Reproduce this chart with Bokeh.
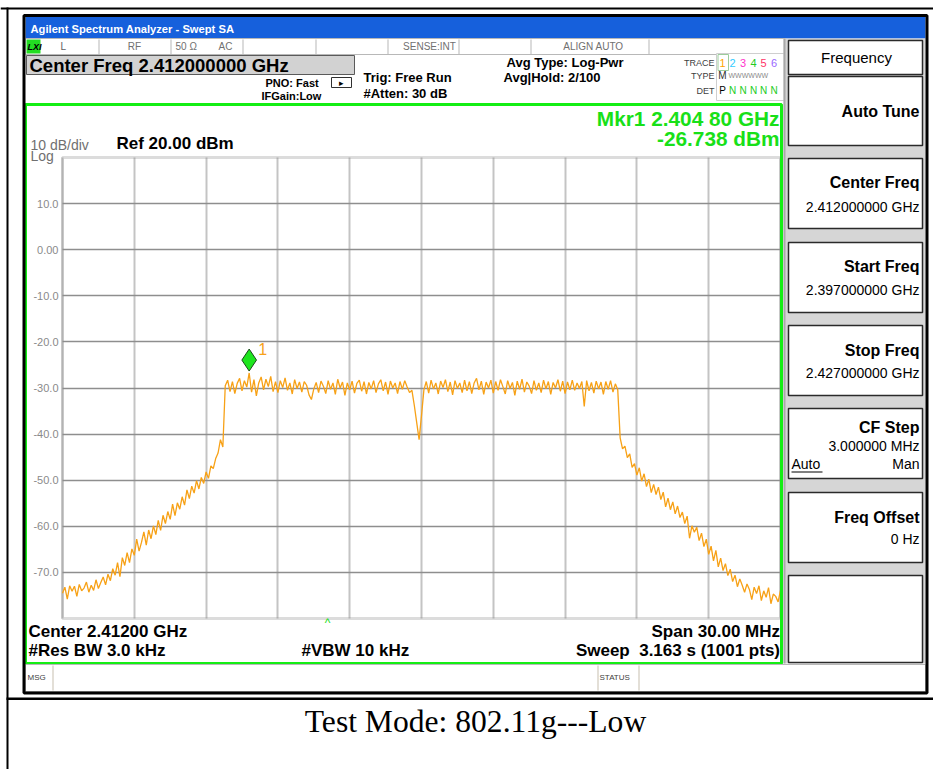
import numpy as np
from bokeh.plotting import figure
from bokeh.models import (Range1d, FixedTicker, Label, BoxAnnotation, LinearAxis, Grid)
from bokeh.embed import file_html
from bokeh.resources import INLINE

# ---------------- data ----------------
START_GHZ = 2.397
STOP_GHZ = 2.427
REF_DBM = 20.0
BOTTOM_DBM = -80.0
MARKER_GHZ = 2.4048
MARKER_DBM = -26.738

# trace level (dBm), one value every 0.1 MHz from 2.397 to 2.427 GHz
skirt_low = [
    -74.5, -73.2, -75.8, -72.9, -74.1, -73.0, -75.2, -72.6, -74.0, -73.4,
    -72.1, -74.3, -72.8, -73.9, -71.6, -73.5, -72.2, -71.0, -72.7, -70.4,
    -71.8, -69.2, -70.6, -67.9, -70.9, -66.8, -68.5, -65.7, -67.9, -64.9,
    -66.3, -62.8, -65.4, -63.5, -61.2, -64.1, -60.8, -62.7, -59.9, -61.8,
    -58.7, -60.9, -57.6, -59.4, -56.8, -58.5, -55.2, -57.7, -54.9, -56.3,
    -53.6, -55.4, -52.1, -54.0, -51.3, -52.8, -50.1, -51.9, -49.4, -50.7,
    -48.2, -49.6, -46.9, -47.5, -45.3, -44.1, -41.2, -42.8, -29.5, -28.3,
]
band_low = [
    -30.8, -28.6, -31.2, -29.0, -27.9, -30.6, -28.4, -29.8, -26.74, -30.9,
    -28.2, -31.7, -28.9, -27.6, -30.4, -28.1, -29.7, -27.5, -30.8, -28.6,
    -31.0, -28.4, -29.9, -27.8, -30.5, -28.9, -31.3, -28.2, -30.1, -28.7,
    -30.9, -28.6, -29.4, -31.5, -32.5, -30.2, -28.8, -31.0, -28.5, -29.6,
    -31.2, -28.4, -30.3, -28.9, -31.4, -28.1, -30.0, -28.7, -31.6, -28.9,
    -30.4, -28.5, -31.1, -29.0, -28.3, -30.7, -28.6, -31.3, -28.8, -30.2,
    -28.4, -31.0, -29.1, -28.2, -30.6, -28.7, -31.4, -28.5, -30.0, -28.9,
    -31.2, -28.6, -30.3, -28.4, -29.8, -31.0, -30.5, -33.8, -37.5, -41.2,
]
band_high = [
    -36.0, -30.4, -28.6, -31.1, -28.3, -30.2, -28.9, -31.3, -28.5, -29.9,
    -28.2, -30.8, -28.7, -31.5, -28.4, -30.1, -28.9, -31.0, -28.3, -30.6,
    -28.6, -31.2, -28.9, -27.9, -30.4, -28.5, -31.4, -28.7, -30.0, -28.3,
    -31.1, -28.6, -30.5, -28.2, -29.7, -31.3, -28.4, -30.1, -28.8, -31.6,
    -28.5, -30.3, -28.1, -30.9, -28.7, -29.6, -31.2, -28.4, -30.5, -28.9,
    -31.0, -28.3, -30.2, -28.6, -31.4, -28.8, -30.0, -28.2, -30.7, -28.5,
    -31.2, -28.7, -30.4, -28.3, -30.5, -28.9, -30.1, -28.6, -34.0, -28.4,
    -30.6, -28.8, -31.1, -28.5, -30.2, -28.7, -31.4, -28.6, -30.3, -28.4,
]
skirt_high = [
    -30.9, -29.1, -30.4, -40.8, -43.2, -42.6, -45.1, -44.3, -47.2, -46.4,
    -48.9, -47.3, -50.2, -48.6, -51.4, -49.8, -52.7, -50.9, -53.1, -51.5,
    -54.2, -52.6, -55.8, -53.9, -56.4, -54.7, -57.3, -55.6, -58.1, -56.9,
    -59.4, -57.8, -62.6, -59.9, -61.3, -60.2, -63.1, -61.5, -64.4, -62.8,
    -66.1, -64.3, -67.5, -65.2, -68.8, -66.9, -69.6, -68.1, -70.7, -69.3,
    -72.0, -70.6, -73.1, -71.4, -72.8, -74.3, -72.5, -73.7, -75.9, -73.2,
    -74.6, -72.9, -76.1, -74.0, -75.4, -73.3, -76.8, -74.7, -75.2, -76.4,
    -73.9,
]
levels_dbm = skirt_low + band_low + band_high + skirt_high
freq_ghz = np.linspace(START_GHZ, STOP_GHZ, len(levels_dbm))

grid_freqs = [2.397, 2.400, 2.403, 2.406, 2.409, 2.412, 2.415, 2.418, 2.421, 2.424, 2.427]
level_ticks = [10, 0, -10, -20, -30, -40, -50, -60, -70]
level_tick_labels = ["10.0", "0.00", "-10.0", "-20.0", "-30.0", "-40.0", "-50.0", "-60.0", "-70.0"]

SANS = "Liberation Sans"
SERIF = "Liberation Serif"

# ---------------- page geometry ----------------
W, H = 933, 769
GX0, GX1 = 62, 780     # graticule left/right (pixels)
GY0, GY1 = 157, 618    # graticule top/bottom (pixels)

ghz_per_px = (STOP_GHZ - START_GHZ) / (GX1 - GX0)
db_per_px = (REF_DBM - BOTTOM_DBM) / (GY1 - GY0)

p = figure(width=W, height=H, x_range=Range1d(0, W), y_range=Range1d(0, H),
           x_axis_type=None, y_axis_type=None,
           output_backend="svg", toolbar_location=None,
           min_border=0)
p.outline_line_color = None
p.background_fill_color = "white"
p.border_fill_color = "white"
p.extra_x_ranges = {"ghz": Range1d(START_GHZ - GX0 * ghz_per_px, START_GHZ + (W - GX0) * ghz_per_px)}
p.extra_y_ranges = {"dbm": Range1d(BOTTOM_DBM - (H - GY1) * db_per_px, REF_DBM + GY0 * db_per_px)}


def box(x0, y0, x1, y1, fill=None, line=None, lw=1):
    p.add_layout(BoxAnnotation(
        left=x0, right=x1, top=H - y0, bottom=H - y1,
        fill_color=fill, fill_alpha=1.0 if fill else 0.0,
        line_color=line, line_alpha=1.0 if line else 0.0, line_width=lw))


def text(x, y, s, size=12, color="black", style="normal", align="left", font=SANS, bg=None):
    p.add_layout(Label(
        x=x, y=H - y, text=s,
        text_font=font, text_font_size=f"{size}px", text_font_style=style,
        text_color=color, text_align=align, text_baseline="middle",
        background_fill_color=bg))


# ---------------- graticule: grid, axis, trace ----------------
has_cross = "cross_bounds" in Grid.properties()
if has_cross:
    xg = Grid(dimension=0, ticker=FixedTicker(ticks=grid_freqs), x_range_name="ghz", y_range_name="dbm",
              cross_bounds=(BOTTOM_DBM, REF_DBM), grid_line_color="#c4c4c4", grid_line_width=2)
    yg = Grid(dimension=1, ticker=FixedTicker(ticks=level_ticks), x_range_name="ghz", y_range_name="dbm",
              cross_bounds=(START_GHZ, STOP_GHZ), grid_line_color="#8e8e8e", grid_line_width=1.3)
    p.add_layout(xg)
    p.add_layout(yg)
else:
    p.segment(x0=grid_freqs, y0=BOTTOM_DBM, x1=grid_freqs, y1=REF_DBM, x_range_name="ghz",
              y_range_name="dbm", line_color="#c4c4c4", line_width=2, level="underlay")
    p.segment(x0=START_GHZ, y0=level_ticks, x1=STOP_GHZ, y1=level_ticks, x_range_name="ghz",
              y_range_name="dbm", line_color="#8e8e8e", line_width=1.3, level="underlay")

yax = LinearAxis(x_range_name="ghz", y_range_name="dbm", fixed_location=START_GHZ,
                 ticker=FixedTicker(ticks=level_ticks),
                 major_label_overrides={t: s for t, s in zip(level_ticks, level_tick_labels)})
yax.axis_line_color = None
yax.major_tick_line_color = None
yax.minor_tick_line_color = None
yax.major_tick_out = 0
yax.major_tick_in = 0
yax.minor_tick_out = 0
yax.major_label_text_font = SANS
yax.major_label_text_font_size = "11px"
yax.major_label_text_color = "#8a8a8a"
yax.major_label_standoff = 4
p.add_layout(yax, "left")

# graticule outline
p.add_layout(BoxAnnotation(left=START_GHZ, right=STOP_GHZ, bottom=BOTTOM_DBM, top=REF_DBM,
                           x_range_name="ghz", y_range_name="dbm", fill_alpha=0.0,
                           line_color="#8c8c8c", line_width=3, level="underlay"))

p.line(freq_ghz, levels_dbm, x_range_name="ghz", y_range_name="dbm",
       line_color="#f7a116", line_width=1.3)

# ---------------- document table ----------------
box(0, 7, 933, 9, fill="black")
box(6, 7, 8, 769, fill="black")
box(6, 697, 933, 699.5, fill="black")
text(475, 721, "Test Mode: 802.11g---Low", size=31.6, font=SERIF, align="center")

# ---------------- analyzer window ----------------
box(25, 16, 925, 38, fill="#1660dc")
text(30, 28, "Agilent Spectrum Analyzer - Swept SA", size=11.2, color="white", style="bold")

# status row
box(25, 38, 785, 54, fill="white", line="#b8b8b8")
for xs in [98, 170, 242, 315, 387, 458, 530, 648]:
    box(xs, 39, xs + 1, 54, fill="#b8b8b8")
box(26, 39, 40, 53, fill="#22dd22")
text(27, 46, "LXI", size=9, style="bold italic")
text(60, 46, "L", size=10, color="#606060")
text(134, 46, "RF", size=10, color="#707070", align="center")
text(175, 46, "50 Ω", size=10, color="#707070")
text(218, 46, "AC", size=10, color="#707070")
text(429, 46, "SENSE:INT", size=10, color="#707070", align="center")
text(593, 46, "ALIGN AUTO", size=10, color="#707070", align="center")

# settings row
box(26, 55, 354, 74, fill="#d2d2d2", line="#5a5a5a")
text(29, 65, "Center Freq 2.412000000 GHz", size=18.5, style="bold")
text(265, 82, "PNO: Fast", size=11, style="bold")
box(331, 77, 351, 87, fill="white", line="#303030")
text(341, 82.5, "▸", size=9, align="center")
text(261, 95, "IFGain:Low", size=11, style="bold")
text(363, 77, "Trig: Free Run", size=13, style="bold")
text(363, 93, "#Atten: 30 dB", size=13, style="bold")
text(506, 62, "Avg Type: Log-Pwr", size=13, style="bold")
text(503, 77, "Avg|Hold: 2/100", size=13, style="bold")

box(716, 53, 784, 100, fill="white", line="#cfcfcf")
text(714, 62, "TRACE", size=9, color="#404040", align="right")
text(714, 75, "TYPE", size=9, color="#404040", align="right")
text(714, 90, "DET", size=9, color="#404040", align="right")
box(717.5, 54, 728, 70, line="#9ccc9c")
trace_cols = ["#ffa500", "#33ccff", "#ff33cc", "#22cc22", "#ff3366", "#9966ff"]
for i, (xd, c) in enumerate(zip([722, 732, 742.5, 753, 763, 773.5], trace_cols)):
    text(xd, 62, str(i + 1), size=11, color=c, align="center")
    text(xd, 90, "P" if i == 0 else "N", size=10, color="black" if i == 0 else "#22cc22", align="center")
text(722, 75, "M", size=10, color="#303030", align="center")
text(728, 75, "WWWWWW", size=7, color="#8a8a8a")

# graticule annotations
box(25, 104, 781, 663, line="#14ee14", lw=3)
text(779, 118, "Mkr1 2.404 80 GHz", size=20.8, color="#18e018", style="bold", align="right")
text(779, 138, "-26.738 dBm", size=20.8, color="#18e018", style="bold", align="right")
text(30, 144, "10 dB/div", size=14, color="#707070")
text(30, 155, "Log", size=14, color="#707070")
text(116, 143, "Ref 20.00 dBm", size=17, style="bold")
text(327, 622, "^", size=12, color="#22dd22", align="center")
text(28, 631, "Center 2.41200 GHz", size=17, style="bold")
text(28, 650, "#Res BW 3.0 kHz", size=17, style="bold")
text(301, 650, "#VBW 10 kHz", size=17, style="bold")
text(779.5, 631, "Span 30.00 MHz", size=17, style="bold", align="right")
text(779.5, 650, "Sweep \u00a03.163 s (1001 pts)", size=17, style="bold", align="right")

# message bar
box(25, 664, 925, 691, fill="white", line="#b8b8b8")
for xs in [52, 597, 638]:
    box(xs, 665, xs + 1, 690, fill="#c8c0b0")
text(27, 677, "MSG", size=8, color="#404040")
text(599, 677, "STATUS", size=8, color="#404040")

# softkey panel
box(783, 38, 925, 663, fill="#d6d6d6")
box(783, 38, 785, 663, fill="#a8a8a8")
keys = [
    (40, 74), (76, 145), (158, 228), (242, 312), (325, 395), (408, 478), (492, 562), (575, 662),
]
for (y0, y1) in keys:
    box(788, y0, 922, y1, fill="white", line="#2a2a2a", lw=1.5)
text(856, 57, "Frequency", size=15, align="center")
text(919, 111, "Auto Tune", size=16, style="bold", align="right")
text(919, 182, "Center Freq", size=16, style="bold", align="right")
text(919, 206, "2.412000000 GHz", size=14, align="right")
text(919, 266, "Start Freq", size=16, style="bold", align="right")
text(919, 289, "2.397000000 GHz", size=14, align="right")
text(919, 350, "Stop Freq", size=16, style="bold", align="right")
text(919, 372, "2.427000000 GHz", size=14, align="right")
text(919, 427, "CF Step", size=16, style="bold", align="right")
text(919, 445, "3.000000 MHz", size=14, align="right")
text(791, 463, "Auto", size=14)
box(791, 471, 822, 472, fill="black")
text(919, 463, "Man", size=14, align="right")
text(919, 517, "Freq Offset", size=16, style="bold", align="right")
text(919, 538, "0 Hz", size=14, align="right")

# outer black frame of the screenshot
box(23.5, 15, 926.5, 692.5, line="black", lw=3)

# marker 1
p.scatter([MARKER_GHZ], [MARKER_DBM + 2.8], marker="diamond", size=22, x_range_name="ghz",
          y_range_name="dbm", fill_color="#1ee61e", line_color="#1c4a1c", line_width=1)
p.add_layout(Label(x=MARKER_GHZ, y=MARKER_DBM, x_offset=9, y_offset=24, text="1",
                   x_range_name="ghz", y_range_name="dbm",
                   text_font=SANS, text_font_size="16px", text_color="#f7a21a",
                   text_baseline="middle", background_fill_color="white"))

open("out.html", "w").write(file_html(p, INLINE, title="Spectrum"))
